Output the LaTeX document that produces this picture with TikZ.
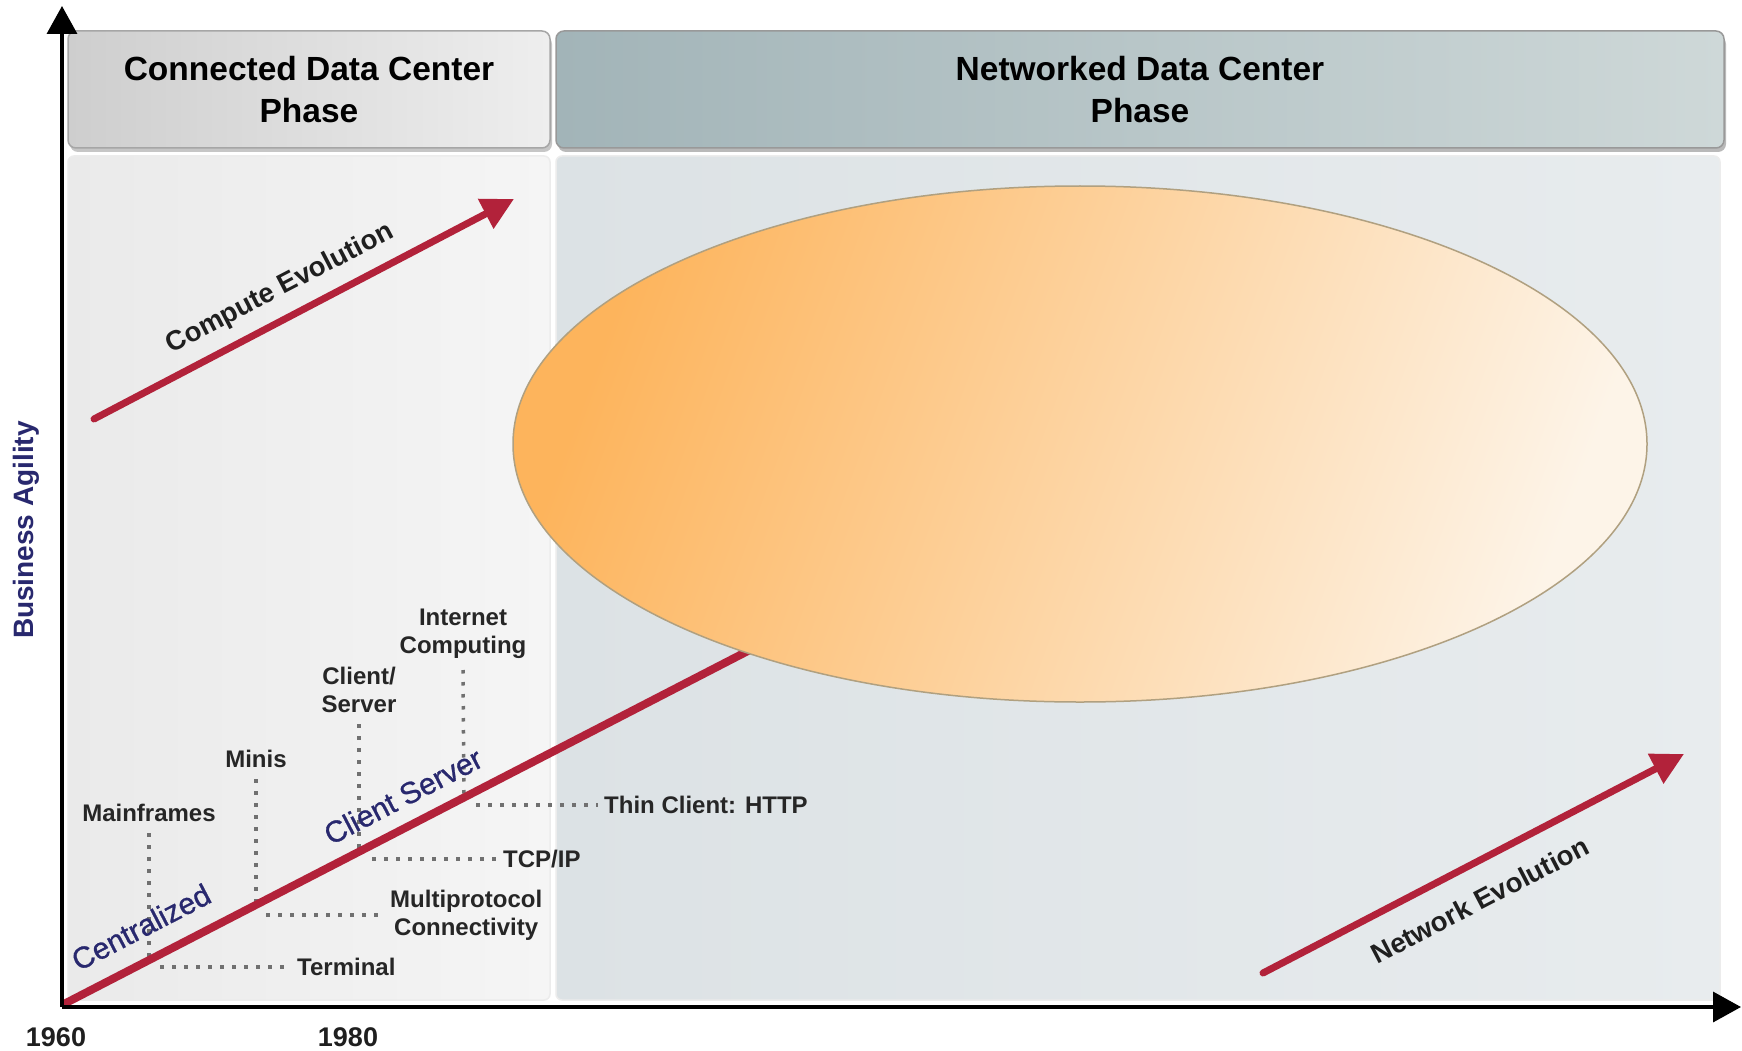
\documentclass[tikz,border=0pt]{standalone}
\usepackage{fontspec}
\setmainfont{Liberation Sans}
\newfontfamily\erafont[FakeBold=0.9]{Liberation Sans}
\usetikzlibrary{arrows.meta,shapes.geometric}

\definecolor{evored}{RGB}{178,34,58}
\definecolor{navytext}{RGB}{40,40,110}
\definecolor{dotgray}{RGB}{112,112,112}
\definecolor{hdrAl}{RGB}{206,206,206}
\definecolor{hdrAr}{RGB}{238,238,238}
\definecolor{hdrBl}{RGB}{162,180,184}
\definecolor{hdrBr}{RGB}{206,216,216}
\definecolor{bodyAl}{RGB}{234,234,234}
\definecolor{bodyAr}{RGB}{245,245,245}
\definecolor{bodyBl}{RGB}{220,226,229}
\definecolor{bodyBr}{RGB}{232,236,238}
\definecolor{cloudA}{RGB}{253,180,92}
\definecolor{cloudB}{RGB}{253,244,232}
\definecolor{cloudrim}{RGB}{176,160,128}

\begin{document}
\begin{tikzpicture}[x=1pt,y=-1pt,
  phasebox/.style={rounded corners=8pt, draw=gray!70, line width=1.5pt,
    inner sep=0pt, align=center, font=\fontsize{33.5}{42}\selectfont\bfseries},
  panel/.style={rounded corners=6pt, draw=white!85!gray, line width=1.5pt, inner sep=0pt},
  evo/.style={draw=evored, fill=evored, line width=7pt, line cap=round,
    -{Triangle[length=32pt,width=32pt]}},
  mainline/.style={draw=evored, line width=8pt},
  dotline/.style={draw=dotgray, line width=3.5pt, dash pattern=on 3.5pt off 8.5pt},
  tag/.style={font=\fontsize{24}{28}\selectfont\bfseries, text=black!85, align=center, inner sep=1pt},
  era/.style={font=\erafont\fontsize{30}{36}\selectfont, text=navytext, rotate=27.5, inner sep=0pt},
  evotext/.style={font=\fontsize{27.5}{32}\selectfont\bfseries, text=black!88, rotate=27.5, inner sep=0pt},
  year/.style={font=\fontsize{27}{32}\selectfont\bfseries, text=black!88, inner sep=0pt},
  axis/.style={draw=black, line width=3.5pt, -{Triangle[length=28pt,width=30pt]}}
]
\useasboundingbox (0,0) rectangle (1742,1051);
\fill[white] (0,0) rectangle (1742,1051);

% phase panels
\node[panel, left color=bodyAl, right color=bodyAr, minimum width=482pt, minimum height=844pt]
  (bodyA) at (309,578) {};
\node[panel, left color=bodyBl, right color=bodyBr, minimum width=1164pt, minimum height=844pt]
  (bodyB) at (1138,578) {};

% phase headers with a soft lower edge
\fill[gray!45, rounded corners=8pt] (70,36) rectangle (552,152);
\fill[gray!55, rounded corners=8pt] (558,36) rectangle (1726,152);
\node[phasebox, left color=hdrAl, right color=hdrAr, minimum width=482pt, minimum height=117pt]
  (phaseA) at (309,89.5) {Connected Data Center\\Phase};
\node[phasebox, draw=gray!80, left color=hdrBl, right color=hdrBr, minimum width=1168pt, minimum height=117pt]
  (phaseB) at (1140,89.5) {Networked Data Center\\Phase};

% milestone labels
\node[tag] (mainframes) at (149,813) {Mainframes};
\node[tag] (minis) at (256,759) {Minis};
\node[tag] (clientsrv) at (359,690) {Client/\\Server};
\node[tag] (internet) at (463,634) {Internet\\Computing};
\node[tag, anchor=west] (terminal) at (296,967) {Terminal};
\node[tag, anchor=west] (multiproto) at (389,915) {Multiprotocol\\Connectivity};
\node[tag, anchor=west] (tcpip) at (502,859) {TCP/IP};
\node[tag, anchor=west] (thin) at (603,805) {Thin Client: HTTP};

% points on the growth line
\coordinate (origin) at (62,1005);
\coordinate (trend) at (775,637);
\coordinate (mfA) at (149,960);
\coordinate (mnA) at (256,905);
\coordinate (csA) at (359,851);
\coordinate (icA) at (464,797);
\coordinate (termA) at (160,967);
\coordinate (mpA) at (266,915);
\coordinate (tcpA) at (372,859);
\coordinate (thinA) at (476,805);

% dotted leaders
\draw[dotline] (mainframes.south) ++(0,10) -- (mfA);
\draw[dotline] (minis.south) ++(0,10) -- (mnA);
\draw[dotline] (clientsrv.south) ++(0,10) -- (csA);
\draw[dotline] (internet.south) ++(0,10) -- (icA);
\draw[dotline] (termA) -- ([xshift=-6pt]terminal.west);
\draw[dotline] (mpA) -- ([xshift=-4pt]multiproto.west);
\draw[dotline] (tcpA) -- ([xshift=-5pt]tcpip.west);
\draw[dotline] (thinA) -- ([xshift=-5pt]thin.west);

% growth line running into the future phase
\draw[mainline] (origin) -- (trend);

% future phase
\node[ellipse, draw=cloudrim, line width=1.5pt, shade, left color=cloudA, right color=cloudB,
  shading angle=70, minimum width=1134pt, minimum height=516pt, inner sep=0pt]
  (cloud) at (1080,444) {};

% era labels along the line
\node[era] (central) at (141,927) {Centralized};
\node[era] (clsrv) at (403,796) {Client Server};

% evolution arrows
\coordinate (ceA) at (94,419);
\coordinate (ceB) at (514,199);
\coordinate (neA) at (1263,973);
\coordinate (neB) at (1684,754);
\draw[evo] (ceA) -- (ceB);
\draw[evo] (neA) -- (neB);
\node[evotext] (computeevo) at (280,289) {Compute Evolution};
\node[evotext] (networkevo) at (1480,900) {Network Evolution};

% axes
\coordinate (corner) at (62,1007);
\coordinate (ytop) at (62,6);
\coordinate (xend) at (1741,1007);
\draw[axis] (corner) -- (ytop);
\draw[axis] (corner) -- (xend);
\node[font=\fontsize{28}{32}\selectfont\bfseries, text=navytext, rotate=90, inner sep=0pt]
  (agility) at (26,530) {Business Agility};
\node[year] (y1960) at (56,1037) {1960};
\node[year] (y1980) at (348,1037) {1980};
\end{tikzpicture}
\end{document}
